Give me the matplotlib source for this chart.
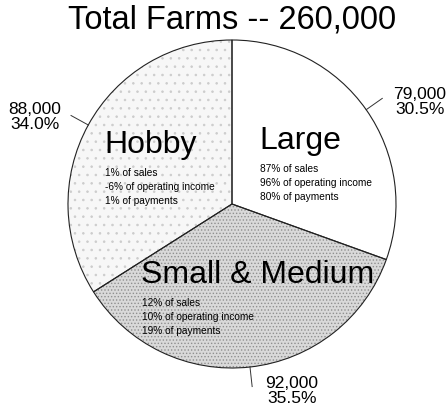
import numpy as np
import matplotlib.pyplot as plt

plt.rcParams['font.family'] = ['Liberation Sans', 'DejaVu Sans']
plt.rcParams['hatch.linewidth'] = 0.6

# data
categories = ['Large', 'Small & Medium', 'Hobby']
farms = [79000, 92000, 88000]
shares = [30.5, 35.5, 34.0]
details = [
    ['87% of sales', '96% of operating income', '80% of payments'],
    ['12% of sales', '10% of operating income', '19% of payments'],
    ['1% of sales', '-6% of operating income', '1% of payments'],
]
total = 260000

W, H = 448, 414
fig = plt.figure(figsize=(W / 100, H / 100), dpi=100)
ax = fig.add_axes([0, 0, 1, 1])

cx, cy, r = 232, H - 205, 164

faces = ['white', '#d9d9d9', '#f7f7f7']
hatches = [None, '.....', '..']
hatch_cols = ['white', '#8f8f8f', '#cccccc']

# fill + texture (no outline)
wedges, _ = ax.pie(shares, startangle=90, counterclock=False, center=(cx, cy),
                   radius=r, colors=faces, frame=True,
                   wedgeprops=dict(linewidth=0))
for w, h, hc in zip(wedges, hatches, hatch_cols):
    w.set_edgecolor(hc)
    if h:
        w.set_hatch(h)
# outlines on top
ax.pie(shares, startangle=90, counterclock=False, center=(cx, cy), radius=r,
       colors=['none'] * 3, frame=True,
       wedgeprops=dict(linewidth=0.8, edgecolor='#222222', fill=False))
ax.set_xlim(0, W)
ax.set_ylim(0, H)
ax.set_aspect('equal')
ax.axis('off')

# outer labels with leader lines
label_pos = [(420, H - 102), (292, H - 391), (35, H - 117)]
for w, n, s, (lx, ly) in zip(wedges, farms, shares, label_pos):
    ang = np.deg2rad((w.theta1 + w.theta2) / 2)
    x0, y0 = cx + r * np.cos(ang), cy + r * np.sin(ang)
    x1, y1 = cx + 1.12 * r * np.cos(ang), cy + 1.12 * r * np.sin(ang)
    ax.plot([x0, x1], [y0, y1], color='#333333', lw=0.7)
    ax.text(lx, ly, f'{n:,}\n{s:.1f}%', ha='center', va='center',
            fontsize=12.5, linespacing=1.0)

# inner labels
inner_pos = [(259, H - 141), (141, H - 275), (104, H - 145)]
for name, det, (tx, ty) in zip(categories, details, inner_pos):
    ax.text(tx, ty, name, ha='left', va='center', fontsize=23)
    for i, line in enumerate(det):
        ax.text(tx + 1, ty - 28 - i * 13.8, line, ha='left', va='center',
                fontsize=7.3)

fig.text(232 / W, 1 - 20 / H, f'Total Farms -- {total:,}', ha='center',
         va='center', fontsize=23.5)

fig.savefig('out.png', dpi=100)
